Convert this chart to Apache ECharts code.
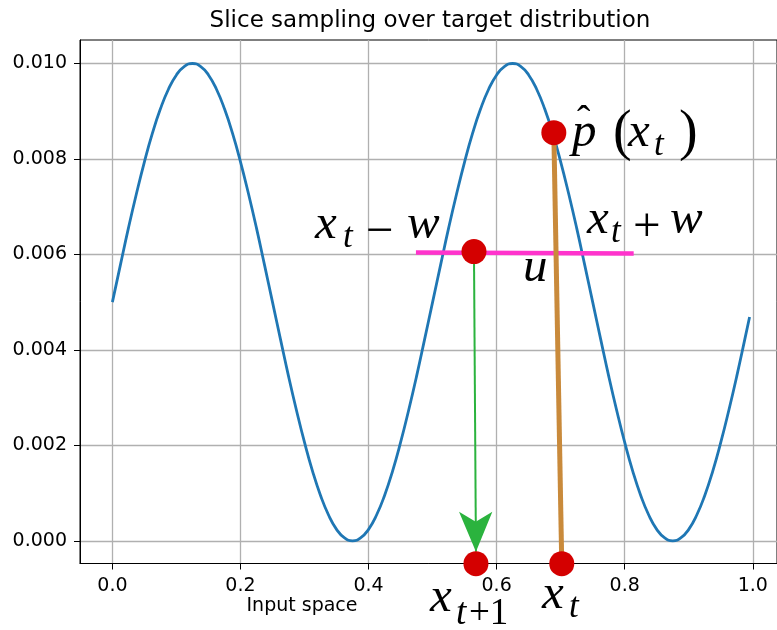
<!DOCTYPE html>
<html><head><meta charset="utf-8">
<script src="https://cdn.jsdelivr.net/npm/echarts@6/dist/echarts.min.js"></script>
<style>html,body{margin:0;padding:0;background:#fff}#c{width:777px;height:630px}</style>
</head><body><div id="c"></div>
<script>
// Target distribution curve
var curveX = [0,0.0125,0.025,0.0375,0.05,0.0625,0.075,0.0875,0.1,0.1125,0.125,0.1375,0.15,0.1625,0.175,0.1875,0.2,0.2125,0.225,0.2375,
  0.25,0.2625,0.275,0.2875,0.3,0.3125,0.325,0.3375,0.35,0.3625,0.375,0.3875,0.4,0.4125,0.425,0.4375,0.45,0.4625,0.475,0.4875,
  0.5,0.5125,0.525,0.5375,0.55,0.5625,0.575,0.5875,0.6,0.6125,0.625,0.6375,0.65,0.6625,0.675,0.6875,0.7,0.7125,0.725,0.7375,
  0.75,0.7625,0.775,0.7875,0.8,0.8125,0.825,0.8375,0.85,0.8625,0.875,0.8875,0.9,0.9125,0.925,0.9375,0.95,0.9625,0.975,0.9875,0.995];
var curveY = [0.005,0.00578,0.00655,0.00727,0.00794,0.00854,0.00905,0.00946,0.00976,0.00994,0.01,0.00994,0.00976,0.00946,0.00905,0.00854,0.00794,0.00727,0.00655,0.00578,
  0.005,0.00422,0.00345,0.00273,0.00206,0.00146,0.00095,0.00054,0.00024,0.00006,0,0.00006,0.00024,0.00054,0.00095,0.00146,0.00206,0.00273,0.00345,0.00422,
  0.005,0.00578,0.00655,0.00727,0.00794,0.00854,0.00905,0.00946,0.00976,0.00994,0.01,0.00994,0.00976,0.00946,0.00905,0.00854,0.00794,0.00727,0.00655,0.00578,
  0.005,0.00422,0.00345,0.00273,0.00206,0.00146,0.00095,0.00054,0.00024,0.00006,0,0.00006,0.00024,0.00054,0.00095,0.00146,0.00206,0.00273,0.00345,0.00422,0.00469];
// Slice annotation
var sliceX = [0.474, 0.814];
var sliceY = [0.00604, 0.00602];
var verticalX = [0.7017, 0.6893];
var verticalY = [-0.00048, 0.00855];
var arrowX = [0.5646, 0.5677];
var arrowY = [0.00606, -0.00023];
var dotsX = [0.6893, 0.5646, 0.5677, 0.7017];
var dotsY = [0.00855, 0.00606, -0.00048, -0.00048];
// Ticks
var xTicks = [0, 0.2, 0.4, 0.6, 0.8, 1.0];
var yTicks = [0, 0.002, 0.004, 0.006, 0.008, 0.010];

function zip(a, b) { return a.map(function (v, i) { return [v, b[i]]; }); }

var chart = echarts.init(document.getElementById('c'), null, {renderer: 'canvas'});
var SERIF = '"Liberation Serif", "DejaVu Serif", serif';
function mt(str, left, base, size, italic) {
  size = size || 49;
  return {type: 'text', z: 100, x: left, y: base - 0.34 * size,
    style: {text: str, fill: '#000', font: (italic === false ? '' : 'italic ') + size + 'px ' + SERIF,
      align: 'left', verticalAlign: 'middle'}};
}
var graphics = [
  {type: 'text', x: 430, y: 21, style: {text: 'Slice sampling over target distribution', fill: '#000',
    font: '23px "DejaVu Sans"', align: 'center', verticalAlign: 'middle'}},
  {type: 'text', x: 302, y: 606, style: {text: 'Input space', fill: '#000',
    font: '19px "DejaVu Sans"', align: 'center', verticalAlign: 'middle'}},
  // x_t - w
  mt('x', 315, 242), mt('t', 343, 250, 35), mt('\u2212', 366, 250, 49, false), mt('w', 407, 242),
  // x_t + w
  mt('x', 587, 237), mt('t', 611, 245, 35), mt('+', 633, 245, 49, false), mt('w', 670, 237),
  // u
  mt('u', 523, 285),
  // p hat (x_t)
  mt('p', 572, 150), mt('\u02C6', 577, 136, 40, false), mt('(', 613, 153, 56, false), mt('x', 628, 150),
  mt('t', 654, 158, 35), mt(')', 679, 153, 56, false),
  // x_{t+1}
  mt('x', 430, 615), mt('t', 456, 627, 37), mt('+1', 469, 627, 37, false),
  // x_t bottom
  mt('x', 542, 612), mt('t', 569, 620, 35)
];

var option = {
  animation: false,
  backgroundColor: '#fff',
  grid: {left: 80, top: 40, right: -2, bottom: 66.5, show: true, borderColor: '#000', borderWidth: 1, backgroundColor: 'transparent'},
  xAxis: {
    type: 'value', min: -0.0506, max: 1.0378,
    axisLine: {show: true, onZero: false, lineStyle: {color: '#000', width: 1}},
    axisTick: {show: true, length: 6, customValues: xTicks, lineStyle: {color: '#000'}},
    axisLabel: {customValues: xTicks, color: '#000', fontSize: 19, fontFamily: 'DejaVu Sans', margin: 13,
      formatter: function (v) { return v.toFixed(1); }},
    splitLine: {show: true, lineStyle: {color: '#b0b0b0', width: 1.3}}
  },
  yAxis: {
    type: 'value', min: -0.000476, max: 0.010492,
    axisLine: {show: true, onZero: false, lineStyle: {color: '#000', width: 1}},
    axisTick: {show: true, length: 6, customValues: yTicks, lineStyle: {color: '#000'}},
    axisLabel: {customValues: yTicks, color: '#000', fontSize: 19, fontFamily: 'DejaVu Sans', margin: 13,
      formatter: function (v) { return v.toFixed(3); }},
    splitLine: {show: true, lineStyle: {color: '#b0b0b0', width: 1.3}}
  },
  series: [
    {type: 'line', data: zip(curveX, curveY), smooth: true, showSymbol: false, symbol: 'none',
      lineStyle: {color: '#1f77b4', width: 2.8}, z: 2},
    {type: 'line', data: zip(sliceX, sliceY), showSymbol: false, symbol: 'none',
      lineStyle: {color: '#ff33cc', width: 4.5}, z: 3},
    {type: 'line', data: zip(verticalX, verticalY), showSymbol: false, symbol: 'none', clip: false,
      lineStyle: {color: '#c98a3b', width: 5}, z: 4},
    {type: 'line', data: [], z: 5,
      markLine: {silent: true, symbol: ['none', 'arrow'], symbolSize: [25, 40], label: {show: false},
        lineStyle: {color: '#2bb33e', width: 2, type: 'solid'},
        itemStyle: {color: '#2bb33e'},
        data: [[{coord: [arrowX[0], arrowY[0]]}, {coord: [arrowX[1], arrowY[1]]}]]}},
    {type: 'scatter', data: zip(dotsX, dotsY), symbolSize: 25, clip: false,
      itemStyle: {color: '#d40000', opacity: 1}, z: 10}
  ],
  graphic: graphics
};
chart.setOption(option);
</script>
</body></html>
